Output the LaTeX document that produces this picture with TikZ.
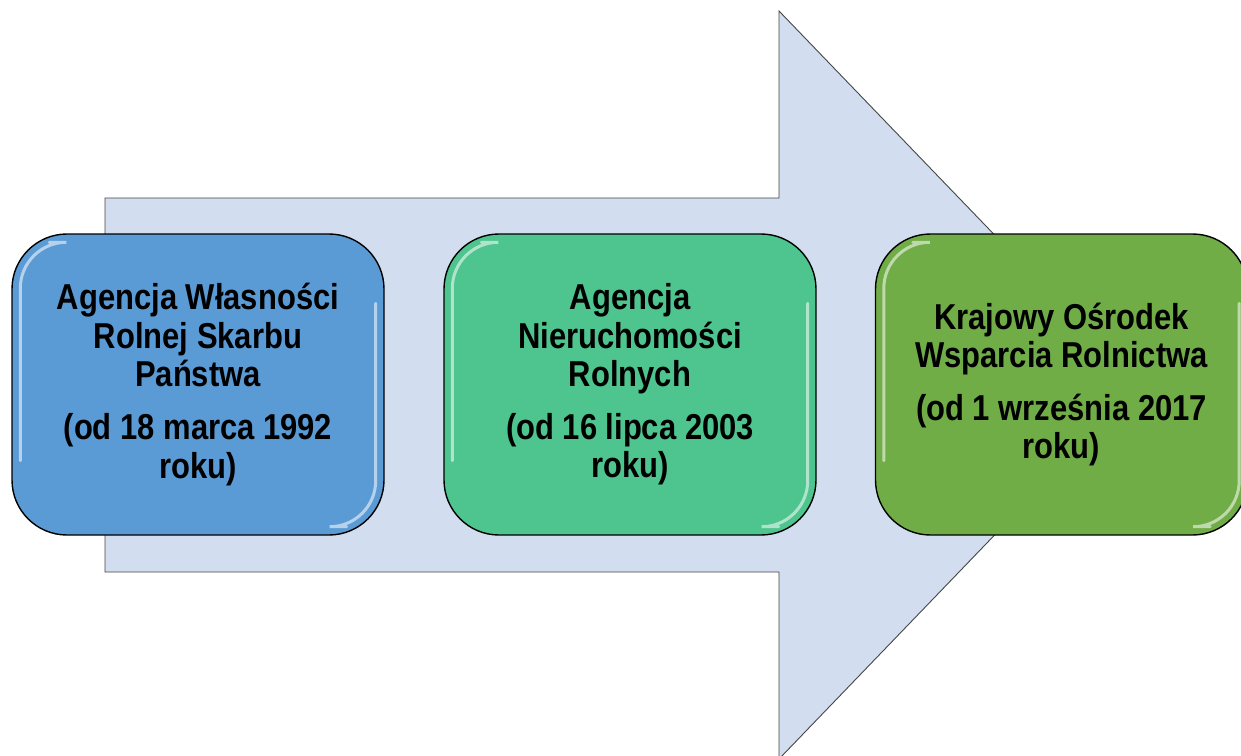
\documentclass[tikz,border=0pt]{standalone}
\usepackage{fontspec}
\setmainfont{Liberation Sans}[FakeStretch=0.86]
\usetikzlibrary{calc}
\definecolor{arrowfill}{RGB}{210,222,239}
\definecolor{arrowline}{RGB}{70,70,70}
\definecolor{boxblue}{RGB}{91,155,213}
\definecolor{boxteal}{RGB}{78,196,143}
\definecolor{boxgreen}{RGB}{112,173,71}
\tikzset{
  stagebox/.style={draw=black, line width=1.4pt, rounded corners=55pt,
    minimum width=372pt, minimum height=301pt, align=center,
    font=\fontsize{36}{38.3}\selectfont\bfseries, inner sep=0pt},
  glossline/.style={draw=white, line width=3pt, rounded corners=46pt,
    opacity=0.55, line cap=round},
  bigarrow/.style={fill=arrowfill, draw=arrowline, line width=0.9pt},
}
\newcommand{\glossbox}[1]{%
  \draw[glossline]
    ($(#1.south west)+(9,-75)$) -- ($(#1.north west)+(9,9)$) -- ($(#1.north west)+(38,9)$);
  \draw[glossline]
    ($(#1.north east)+(-9,70)$) -- ($(#1.south east)+(-9,-9)$) -- ($(#1.south east)+(-38,-9)$);
}
\begin{document}
\begin{tikzpicture}[x=1pt,y=-1pt]
\useasboundingbox (0,0) rectangle (1241,755);
\fill[white] (0,0) rectangle (1241,755);
\coordinate (a1) at (105,198);
\coordinate (a2) at (779,198);
\coordinate (a3) at (779,11);
\coordinate (tip) at (1139,385);
\coordinate (a5) at (779,759);
\coordinate (a6) at (779,572);
\coordinate (a7) at (105,572);
\draw[bigarrow] (a1) -- (a2) -- (a3) -- (tip) -- (a5) -- (a6) -- (a7) -- cycle;

\node[stagebox, fill=boxblue] (b1) at (198,384.5)
  {Agencja Własności\\Rolnej Skarbu\\Państwa\\[15pt](od 18 marca 1992\\roku)};
\glossbox{b1}
\node[stagebox, fill=boxteal] (b2) at (630,384.5)
  {Agencja\\Nieruchomości\\Rolnych\\[15pt](od 16 lipca 2003\\roku)};
\glossbox{b2}
\node[stagebox, fill=boxgreen] (b3) at (1061.5,384.5)
  {Krajowy Ośrodek\\Wsparcia Rolnictwa\\[15pt](od 1 września 2017\\roku)};
\glossbox{b3}
\end{tikzpicture}
\end{document}
